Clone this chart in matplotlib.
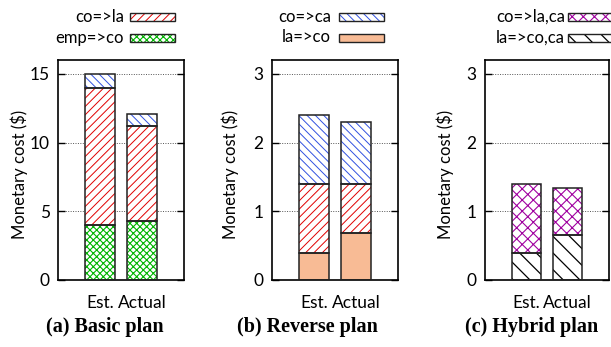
import matplotlib
matplotlib.use("Agg")
import matplotlib.pyplot as plt
from matplotlib.patches import Rectangle

# ---------------- data ----------------
categories = ["Est.", "Actual"]

# (a) Basic plan
basic_emp_co = [4.0, 4.3]
basic_co_la = [10.0, 6.9]
basic_co_ca = [1.0, 0.9]

# (b) Reverse plan
reverse_la_co = [0.40, 0.68]
reverse_co_la = [1.00, 0.72]
reverse_co_ca = [1.00, 0.90]

# (c) Hybrid plan
hybrid_la_coca = [0.40, 0.65]
hybrid_co_laca = [1.00, 0.69]

captions = ["(a) Basic plan", "(b) Reverse plan", "(c) Hybrid plan"]
ylabel = "Monetary cost ($)"

# ---------------- styles ----------------
STY = {
    "emp=>co":   dict(hatch="xxxxx", hc="#00b400", fc="white", hlw=0.8),
    "co=>la":    dict(hatch="////", hc="#e00000", fc="white", hlw=0.7),
    "co=>ca":    dict(hatch="\\\\\\\\", hc="#3050e0", fc="white", hlw=0.7),
    "la=>co":    dict(hatch=None, hc="#f8bb95", fc="#f8bb95", hlw=0.7),
    "co=>la,ca": dict(hatch="xxx", hc="#a000a0", fc="white", hlw=0.8),
    "la=>co,ca": dict(hatch="\\\\", hc="#000000", fc="white", hlw=0.9),
}

plt.rcParams["font.family"] = ["Lato", "DejaVu Sans"]

W, H = 611, 347
fig = plt.figure(figsize=(W / 100, H / 100), dpi=100)

EDGE = "#222222"


def draw_stack(ax, series):
    x = list(range(len(categories)))
    bottoms = [0.0] * len(categories)
    for name, vals in series:
        s = STY[name]
        with plt.rc_context({"hatch.linewidth": s["hlw"]}):
            if s["hatch"]:
                ax.bar(x, vals, bottom=bottoms, width=0.7, color="white",
                       edgecolor=s["hc"], hatch=s["hatch"], linewidth=0,
                       zorder=2)
            else:
                ax.bar(x, vals, bottom=bottoms, width=0.7, color=s["fc"],
                       linewidth=0, zorder=2)
        ax.bar(x, vals, bottom=bottoms, width=0.7, fill=False,
               edgecolor=EDGE, linewidth=1.1, zorder=3)
        bottoms = [b + v for b, v in zip(bottoms, vals)]


def px_ax(left, right, top=60, bottom=280):
    return [left / W, 1 - bottom / H, (right - left) / W, (bottom - top) / H]


def legend(entries, text_right, patch_left, patch_w=45):
    rows_y = [16.7, 37.5]
    for (name, yy) in zip(entries, rows_y):
        fig.text(text_right / W, 1 - yy / H, name, ha="right", va="center",
                 fontsize=12)
        s = STY[name]
        with plt.rc_context({"hatch.linewidth": s["hlw"]}):
            r = Rectangle((patch_left / W, 1 - (yy + 4) / H), patch_w / W,
                          8 / H, transform=fig.transFigure, facecolor=s["fc"],
                          edgecolor=s["hc"] if s["hatch"] else s["fc"],
                          hatch=s["hatch"], linewidth=0)
        fig.add_artist(r)
        r2 = Rectangle((patch_left / W, 1 - (yy + 4) / H), patch_w / W, 8 / H,
                       transform=fig.transFigure, fill=False,
                       edgecolor=EDGE, linewidth=1.0)
        fig.add_artist(r2)


panels = [
    dict(left=58, right=184, ylim=16, yticks=[0, 5, 10, 15],
         series=[("emp=>co", basic_emp_co), ("co=>la", basic_co_la),
                 ("co=>ca", basic_co_ca)],
         leg=["co=>la", "emp=>co"], leg_pos=(124, 130), cap_x=104.5,
         lab_dx=30),
    dict(left=272, right=398, ylim=3.2, yticks=[0, 1, 2, 3],
         series=[("la=>co", reverse_la_co), ("co=>la", reverse_co_la),
                 ("co=>ca", reverse_co_ca)],
         leg=["co=>ca", "la=>co"], leg_pos=(331, 339), cap_x=307.5,
         lab_dx=33),
    dict(left=485, right=609, ylim=3.2, yticks=[0, 1, 2, 3],
         series=[("la=>co,ca", hybrid_la_coca), ("co=>la,ca", hybrid_co_laca)],
         leg=["co=>la,ca", "la=>co,ca"], leg_pos=(565, 568), cap_x=531.5,
         lab_dx=31),
]

for p, cap in zip(panels, captions):
    ax = fig.add_axes(px_ax(p["left"], p["right"]))
    draw_stack(ax, p["series"])
    ax.set_xlim(-1, 2)
    ax.set_ylim(0, p["ylim"])
    ax.set_yticks(p["yticks"])
    ax.set_yticklabels([str(t) for t in p["yticks"]])
    ax.set_xticks(range(len(categories)))
    ax.set_xticklabels(categories)
    ax.tick_params(axis="x", length=0, labelsize=12.5, pad=11)
    ax.tick_params(axis="y", direction="in", length=5, width=1.0,
                   labelsize=12.5, pad=6, right=True)
    ax.yaxis.grid(True, linestyle=(0, (1, 1.5)), color="#555555",
                  linewidth=0.7, zorder=0)
    ax.set_axisbelow(True)
    for sp in ax.spines.values():
        sp.set_linewidth(1.2)
        sp.set_color("black")
    ax.set_ylabel(ylabel, fontsize=12)
    axw = p["right"] - p["left"]
    ax.yaxis.set_label_coords(-p["lab_dx"] / axw, (280 - 174) / 220)
    legend(p["leg"], *p["leg_pos"])
    fig.text(p["cap_x"] / W, 1 - 327 / H, cap, ha="center", va="center",
             fontsize=14.5, fontweight="bold", family="Liberation Serif")

fig.savefig("out.png", dpi=100)
